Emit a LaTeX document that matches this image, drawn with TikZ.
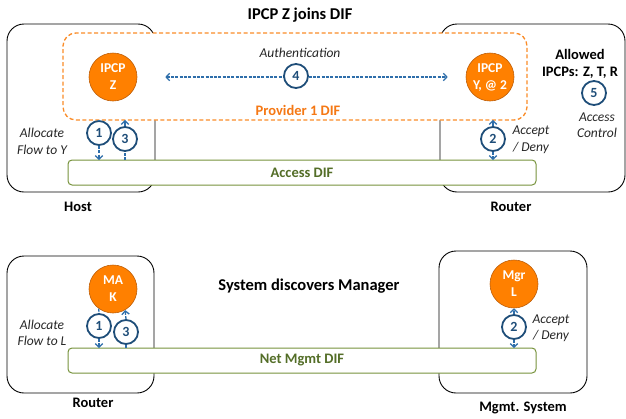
\documentclass[tikz,border=0pt]{standalone}
\usepackage{fontspec}
\setmainfont{Carlito}
\usetikzlibrary{arrows.meta}

\definecolor{ipcporange}{RGB}{255,128,0}
\definecolor{ipcpedge}{RGB}{190,95,10}
\definecolor{difdash}{RGB}{250,140,40}
\definecolor{diftext}{RGB}{245,120,20}
\definecolor{accgreen}{RGB}{119,147,60}
\definecolor{accgreentext}{RGB}{84,110,40}
\definecolor{stepblue}{RGB}{31,78,121}
\definecolor{flowblue}{RGB}{46,110,170}
\definecolor{labelgray}{RGB}{38,38,38}

\begin{document}
\begin{tikzpicture}[x=1pt,y=-1pt,
  machine/.style={draw=black, line width=0.9pt, rounded corners=17pt,
    inner sep=0pt, outer sep=0pt},
  provider/.style={draw=difdash, dash pattern=on 4pt off 2.5pt, line width=1.3pt,
    fill=white, rounded corners=13pt, inner sep=0pt, outer sep=0pt},
  difbox/.style={draw=accgreen, line width=1pt, fill=white, rounded corners=4pt,
    inner sep=0pt, outer sep=0pt, text=accgreentext,
    font=\fontsize{14.5}{16}\selectfont\bfseries},
  ipcp/.style={circle, fill=ipcporange, draw=ipcpedge, line width=0.6pt,
    minimum size=48pt, inner sep=0pt, align=center, text=white,
    font=\fontsize{13.5}{17}\selectfont\bfseries},
  stepnum/.style={circle, draw=stepblue, line width=1.8pt, fill=white,
    minimum size=24pt, inner sep=0pt, text=stepblue,
    font=\fontsize{14}{16}\selectfont\bfseries},
  flow/.style={draw=flowblue, line width=1.3pt, dash pattern=on 3pt off 1.3pt},
  tip/.style={-{Straight Barb[length=3.5pt,width=7.5pt]}},
  note/.style={align=center, text=labelgray, inner sep=0pt,
    font=\fontsize{13.5}{16.5}\selectfont\itshape},
  boxname/.style={text=black, inner sep=0pt,
    font=\fontsize{14.5}{17}\selectfont\bfseries},
  heading/.style={text=black, inner sep=0pt,
    font=\fontsize{16.5}{19}\selectfont\bfseries}
]
\useasboundingbox (0,0) rectangle (626,418);

% ---------- upper scenario: IPCP Z joins DIF ----------
\node[heading] (t1) at (300,15) {IPCP Z joins DIF};

\node[machine, minimum width=148pt, minimum height=168pt] (host) at (81,108) {};
\node[machine, minimum width=185pt, minimum height=168pt] (rtr) at (532.5,108) {};

\node[provider, minimum width=464pt, minimum height=87pt] (prov) at (295,76.5) {};
\node[text=diftext, inner sep=0pt, font=\fontsize{14.5}{16}\selectfont\bfseries]
  (provlbl) at (298,110) {Provider 1 DIF};
\node[difbox, minimum width=468pt, minimum height=25pt] (acc) at (302,172.5) {Access DIF};

\node[ipcp] (z) at (113,77) {IPCP\\Z};
\node[ipcp] (y) at (490,77) {IPCP\\Y, @ 2};

% authentication exchange
\node[note] (auth) at (300,53) {Authentication};
\draw[flow, {Straight Barb[length=3.5pt,width=7.5pt]}-{Straight Barb[length=3.5pt,width=7.5pt]},
  shorten <=28pt, shorten >=18pt] (z) -- (y);
\node[stepnum] (s4) at (296,76) {4};

% host side: allocate flow
\node[stepnum] (h1) at (99,133) {1};
\node[stepnum] (h3) at (125,139) {3};
\draw[flow] (h1 |- prov.south) -- (h1.north);
\draw[flow, tip] (h1.south) -- (h1 |- acc.north);
\draw[flow] (h3 |- acc.north) -- (h3.south);
\draw[flow, tip] (h3.north) -- (h3 |- prov.south);
\node[note] (alloc1) at (42,141.5) {Allocate\\Flow to Y};

% router side: accept / deny
\node[stepnum] (r2) at (493,139) {2};
\draw[flow, tip] (r2.north) -- (r2 |- prov.south);
\draw[flow, tip] (r2.south) -- (r2 |- acc.north);
\node[note] (acc1) at (531,140) {Accept\\/ Deny};

\node[boxname, align=center] (allowed) at (580,63.5) {Allowed\\IPCPs: Z, T, R};
\node[stepnum] (s5) at (594,93) {5};
\node[note] (ac) at (597,125) {Access\\Control};

\node[boxname] (hostlbl) at (78,207) {Host};
\node[boxname] (rtrlbl) at (511,207) {Router};

% ---------- lower scenario: system discovers manager ----------
\node[heading] (t2) at (309,286) {System discovers Manager};

\node[machine, minimum width=147pt, minimum height=137pt] (rtr2) at (80.5,324.5) {};
\node[machine, minimum width=148pt, minimum height=142pt] (mgmt) at (513,322) {};

\node[difbox, minimum width=468pt, minimum height=25pt] (net) at (302,360.5) {Net Mgmt DIF};

\node[ipcp] (mak) at (113,289) {MA\\K};
\node[ipcp] (mgr) at (514,284) {Mgr\\L};

\node[stepnum] (b1) at (99,326) {1};
\node[stepnum] (b3) at (126,332) {3};
\draw[flow] (mak.234) -- (b1.north);
\draw[flow, tip] (b1.south) -- (b1 |- net.north);
\draw[flow] (b3 |- net.north) -- (b3.south);
\draw[flow, tip] (b3.north) -- (mak.300);
\node[note] (alloc2) at (42,333) {Allocate\\Flow to L};

\node[stepnum] (m2) at (514,327) {2};
\draw[flow, tip] (m2.north) -- (mgr.south);
\draw[flow, tip] (m2.south) -- (m2 |- net.north);
\node[note] (acc2) at (551,328) {Accept\\/ Deny};

\node[boxname] (rtr2lbl) at (93,403) {Router};
\node[boxname] (mgmtlbl) at (523,408) {Mgmt. System};
\end{tikzpicture}
\end{document}
